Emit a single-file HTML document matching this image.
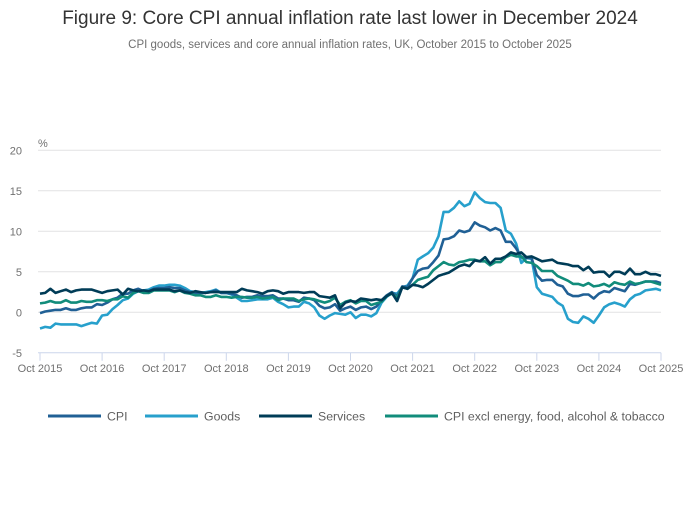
<!DOCTYPE html>
<html><head><meta charset="utf-8">
<style>
body{margin:0;background:#fff;width:700px;height:502px;overflow:hidden;font-family:"Liberation Sans",sans-serif;}
svg text{font-family:"Liberation Sans",sans-serif;}
</style></head>
<body>
<svg id="chart" width="700" height="502" xmlns="http://www.w3.org/2000/svg">
<text x="350" y="24" text-anchor="middle" font-size="19" fill="#333">Figure 9: Core CPI annual inflation rate last lower in December 2024</text>
<text x="350" y="48" text-anchor="middle" font-size="11.5" fill="#707070">CPI goods, services and core annual inflation rates, UK, October 2015 to October 2025</text>
<text x="38" y="147" font-size="11" fill="#707070">%</text>
<g id="grid"></g><g id="series"></g><g id="legend"></g>
</svg>
<script>
const xTickLabels=["Oct 2015","Oct 2016","Oct 2017","Oct 2018","Oct 2019","Oct 2020","Oct 2021","Oct 2022","Oct 2023","Oct 2024","Oct 2025"];
const yTicks=[-5,0,5,10,15,20];
const seriesNames=["CPI","Goods","Services","CPI excl energy, food, alcohol & tobacco"];
const cpi=[-0.1,0.1,0.2,
0.3,0.3,0.5,0.3,0.3,0.5,0.6,0.6,1.0,0.9,1.2,1.6,
1.8,2.3,2.3,2.7,2.9,2.6,2.6,2.9,3.0,3.0,3.1,3.0,
3.0,2.7,2.5,2.4,2.4,2.4,2.5,2.7,2.4,2.4,2.3,2.1,
1.8,1.9,1.9,2.1,2.0,2.0,2.1,1.7,1.7,1.5,1.5,1.3,
1.8,1.7,1.5,0.8,0.5,0.6,1.0,0.2,0.5,0.7,0.3,0.6,
0.7,0.4,0.7,1.5,2.1,2.5,2.0,3.2,3.1,4.2,5.1,5.4,
5.5,6.2,7.0,9.0,9.1,9.4,10.1,9.9,10.1,11.1,10.7,10.5,
10.1,10.4,10.1,8.7,8.7,7.9,6.8,6.7,6.7,4.6,3.9,4.0,
4.0,3.4,3.2,2.3,2.0,2.0,2.2,2.2,1.7,2.3,2.6,2.5,
3.0,2.8,2.6,3.5,3.4,3.6,3.8,3.8,3.8,3.6];
const goods=[-2.0,-1.8,-1.9,
-1.4,-1.5,-1.5,-1.5,-1.5,-1.7,-1.5,-1.3,-1.4,-0.4,-0.3,0.4,
0.9,1.5,1.7,2.3,2.6,2.7,2.8,3.1,3.3,3.3,3.4,3.4,
3.3,3.0,2.6,2.5,2.4,2.5,2.6,2.8,2.4,2.4,2.2,1.8,
1.4,1.4,1.5,1.6,1.6,1.6,1.8,1.3,1.0,0.6,0.7,0.7,
1.3,1.1,0.6,-0.4,-0.8,-0.4,-0.1,-0.2,-0.3,0.0,-0.7,-0.3,
-0.3,-0.5,-0.1,1.2,1.9,2.4,2.3,3.1,3.3,4.2,6.5,6.9,
7.3,8.0,9.4,12.4,12.4,12.9,13.7,13.1,13.4,14.8,14.1,13.6,
13.5,13.5,12.9,10.1,9.7,8.5,6.1,6.7,6.6,3.1,2.3,2.1,
1.9,1.2,0.8,-0.8,-1.2,-1.3,-0.5,-0.8,-1.3,-0.4,0.6,1.0,
1.2,1.0,0.7,1.6,2.1,2.3,2.7,2.8,2.9,2.7];
const services=[2.3,2.4,2.9,
2.4,2.6,2.8,2.5,2.7,2.8,2.8,2.8,2.6,2.4,2.6,2.7,
2.8,2.2,2.9,2.7,2.6,2.7,2.6,2.8,2.8,2.8,2.8,2.6,
2.7,2.5,2.4,2.6,2.5,2.4,2.5,2.5,2.5,2.5,2.5,2.5,
2.9,2.7,2.6,2.5,2.3,2.6,2.7,2.6,2.3,2.5,2.5,2.5,
2.4,2.5,2.5,2.0,1.9,1.8,2.1,0.5,1.2,1.4,1.3,1.7,
1.6,1.5,1.6,1.5,2.0,2.4,1.4,3.1,2.9,3.4,3.3,3.1,
3.5,4.0,4.5,4.7,4.9,5.3,5.7,5.9,5.7,6.4,6.3,6.8,
6.0,6.6,6.6,6.9,7.4,7.2,7.4,6.8,6.9,6.6,6.3,6.4,
6.5,6.1,6.0,5.9,5.7,5.7,5.2,5.6,4.9,5.0,5.0,4.4,
5.0,5.0,4.7,5.4,4.7,4.7,5.0,4.7,4.7,4.5];
const core=[1.1,1.2,1.4,
1.2,1.2,1.5,1.2,1.2,1.4,1.3,1.3,1.5,1.5,1.4,1.6,
1.6,2.0,1.8,2.4,2.6,2.4,2.4,2.7,2.7,2.7,2.7,2.5,
2.7,2.4,2.3,2.1,2.1,1.9,1.9,2.1,1.9,1.9,1.8,1.9,
1.9,1.8,1.8,1.9,1.7,1.8,1.9,1.5,1.7,1.7,1.7,1.4,
1.6,1.7,1.6,1.4,1.2,1.4,1.8,0.9,1.3,1.5,1.1,1.4,
1.4,0.9,1.1,1.3,2.0,2.3,1.8,3.1,2.9,3.4,4.0,4.2,
4.4,5.2,5.7,6.2,5.9,5.8,6.2,6.3,6.5,6.5,6.3,6.3,
5.8,6.2,6.2,6.8,7.1,6.9,6.9,6.2,6.1,5.7,5.1,5.1,
5.1,4.5,4.2,3.9,3.5,3.5,3.3,3.6,3.2,3.3,3.5,3.2,
3.7,3.5,3.4,3.8,3.5,3.6,3.8,3.8,3.6,3.4];

const NS="http://www.w3.org/2000/svg";
const X0=40,X1=661,Y0=312.3,PPU=8.1;
const nMonths=cpi.length-1;
function xScale(i){return X0+(X1-X0)*i/nMonths;}
function yScale(v){return Y0-v*PPU;}
function mk(tag,attrs,parent){const e=document.createElementNS(NS,tag);for(const k in attrs)e.setAttribute(k,attrs[k]);parent.appendChild(e);return e;}
const grid=document.getElementById('grid');
yTicks.forEach(t=>{
  const y=yScale(t);
  if(t>-5){const l=mk('line',{x1:X0-2,x2:X1,y1:y,y2:y,stroke:'#e2e2e3','stroke-width':1},grid);
  
  }
  const tx=mk('text',{x:22,y:y+4,'text-anchor':'end','font-size':11,fill:'#707070'},grid);
  tx.textContent=String(t);
  
  
});
const ax=mk('line',{x1:X0-2,x2:X1,y1:yScale(-5),y2:yScale(-5),stroke:'#ccd6eb','stroke-width':1},grid);


xTickLabels.forEach((lab,k)=>{
  const x=xScale(k*12);
  const tk=mk('line',{x1:x,x2:x,y1:yScale(-5),y2:yScale(-5)+8,stroke:'#ccd6eb'},grid);
  
  
  const tx=mk('text',{x:x,y:372,'text-anchor':'middle','font-size':11,fill:'#707070'},grid);
  tx.textContent=lab;
  
  
});
const colors=["#206095","#27a0cc","#003c57","#118c7b"];
const data=[cpi,goods,services,core];
const order=[1,0,3,2];
const sg=document.getElementById('series');
const keys=['cpi','goods','services','core'];
order.forEach(s=>{
  const d=data[s].map((v,i)=>(i?'L':'M')+xScale(i).toFixed(1)+' '+yScale(v).toFixed(1)).join(' ');
  const p=mk('path',{d:d,fill:'none',stroke:colors[s],'stroke-width':2.6,'stroke-linejoin':'round'},sg);
  
  
});
const lg=document.getElementById('legend');
const lx=[48,145,259,385];
seriesNames.forEach((n,s)=>{
  const g=mk('g',{},lg);
  
  
  mk('line',{x1:lx[s],x2:lx[s]+53,y1:416,y2:416,stroke:colors[s],'stroke-width':3},g);
  const t=mk('text',{x:lx[s]+59,y:420.5,'font-size':12.3,fill:'#606060'},g);
  t.textContent=n;
});
</script>
</body></html>
